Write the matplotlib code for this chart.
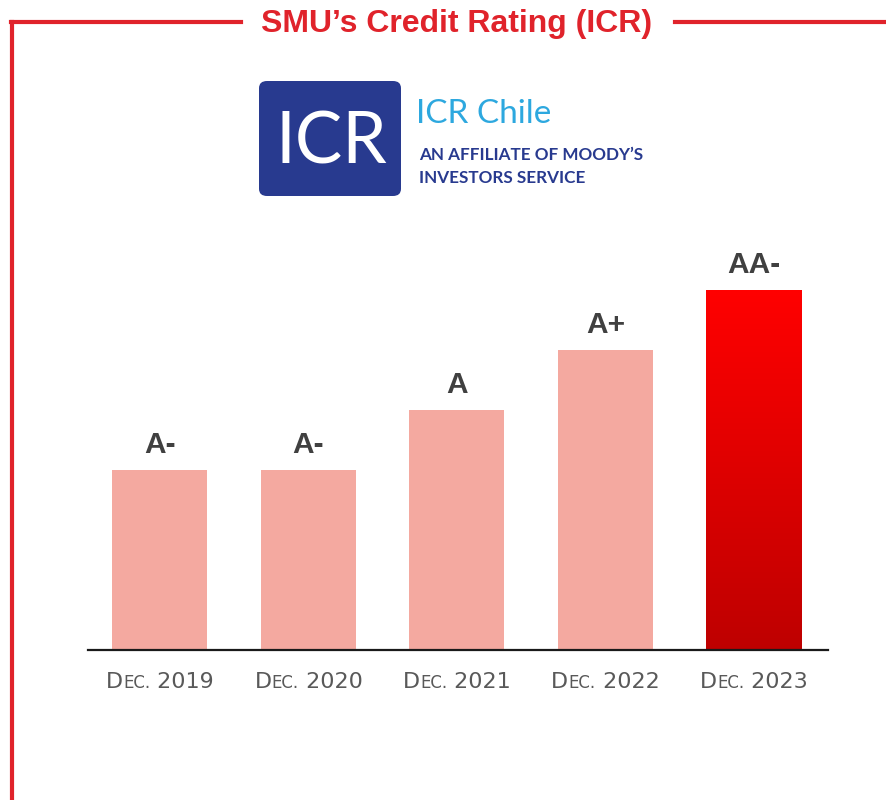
import numpy as np
import matplotlib
matplotlib.use("Agg")
import matplotlib.pyplot as plt
import matplotlib.transforms as mtransforms
from matplotlib.lines import Line2D
from matplotlib.patches import FancyBboxPatch
from matplotlib.colors import LinearSegmentedColormap

# ---------- Data ----------
years = ["2019", "2020", "2021", "2022", "2023"]
ratings = ["A-", "A-", "A", "A+", "AA-"]
notches = [3, 3, 4, 5, 6]   # rating notch above BBB+

title = "SMU\u2019s Credit Rating (ICR)"
red = "#E0232B"
pink = "#F4A9A0"
dark_text = "#404040"
gray_text = "#595959"
navy = "#283A8F"
light_blue = "#2DA8DF"

W, H = 887, 800
plt.rcParams["font.family"] = ["Liberation Sans", "DejaVu Sans"]

fig = plt.figure(figsize=(W / 100, H / 100), dpi=100)


def fx(px):
    return px / W


def fy(py):
    return 1 - py / H


# ---------- Frame + title ----------
lw = 3
fig.add_artist(Line2D([fx(12), fx(12)], [fy(22), 0], color=red, lw=lw))
fig.add_artist(Line2D([fx(11), fx(241)], [fy(22), fy(22)], color=red, lw=lw))
fig.add_artist(Line2D([fx(675), 1], [fy(22), fy(22)], color=red, lw=lw))
fig.text(fx(457), fy(24), title, ha="center", va="center",
         fontsize=23, fontweight="bold", color=red)

# ---------- Logo ----------
box = FancyBboxPatch((fx(259), fy(196)), fx(401) - fx(259), fy(81) - fy(196),
                     boxstyle="round,pad=0,rounding_size=0.009",
                     transform=fig.transFigure, facecolor=navy, edgecolor="none")
fig.add_artist(box)
fig.text(fx(331), fy(163), "ICR", ha="center", va="baseline", color="white",
         fontsize=51, family="Lato")
fig.text(fx(416), fy(123), "ICR Chile", ha="left", va="baseline", color=light_blue,
         fontsize=24, family="Lato")
fig.text(fx(419), fy(160), "AN AFFILIATE OF MOODY\u2019S", ha="left", va="baseline",
         color=navy, fontsize=12.3, family="Lato", fontweight="bold")
fig.text(fx(419), fy(183), "INVESTORS SERVICE", ha="left", va="baseline",
         color=navy, fontsize=12.3, family="Lato", fontweight="bold")

# ---------- Bars ----------
ax = fig.add_axes([fx(88), 150 / H, (828 - 88) / W, 400 / H])
x = np.arange(len(years))
colors = [pink] * (len(years) - 1) + ["none"]
bars = ax.bar(x, notches, width=0.64, color=colors, edgecolor="none", zorder=2)

# gradient on the last bar
last = bars[-1]
cmap = LinearSegmentedColormap.from_list("redgrad", ["#BE0000", "#FF0000"])
grad = np.linspace(0, 1, 256).reshape(-1, 1)
img = ax.imshow(grad, cmap=cmap, origin="lower", aspect="auto", zorder=2,
                extent=[last.get_x(), last.get_x() + last.get_width(), 0, last.get_height()])
img.set_clip_path(last)

for xi, v, r in zip(x, notches, ratings):
    ax.annotate(r, (xi, v), xytext=(0, 12), textcoords="offset points",
                ha="center", va="baseline", fontsize=21.5, fontweight="bold",
                color=dark_text)

ax.set_xlim(-0.485, 4.5)
ax.set_ylim(0, 400 / 60)
for s in ["top", "right", "left"]:
    ax.spines[s].set_visible(False)
ax.spines["bottom"].set_color("#1a1a1a")
ax.spines["bottom"].set_linewidth(1.6)
ax.set_yticks([])
ax.set_xticks(x)
ax.set_xticklabels([])
ax.tick_params(axis="x", length=0)

# small-caps style tick labels: "D" + "EC." + " 2019"
renderer = fig.canvas.get_renderer()
base_tr = ax.get_xaxis_transform()
label_y = (112 - 150) / 400
for xi, yr in zip(x, years):
    pieces = [("D", 16), ("EC.", 12), (" " + yr, 16)]
    texts = []
    for s, size in pieces:
        t = ax.text(xi, label_y, s, transform=base_tr, ha="left", va="baseline",
                    fontsize=size, color=gray_text, clip_on=False, family="DejaVu Sans")
        texts.append(t)
    widths = [t.get_window_extent(renderer).width for t in texts]
    total = sum(widths)
    offset = -total / 2
    for t, w in zip(texts, widths):
        t.set_transform(mtransforms.offset_copy(base_tr, fig=fig,
                                                x=offset * 72 / fig.dpi, units="points"))
        offset += w

fig.savefig("out.png", dpi=100)
